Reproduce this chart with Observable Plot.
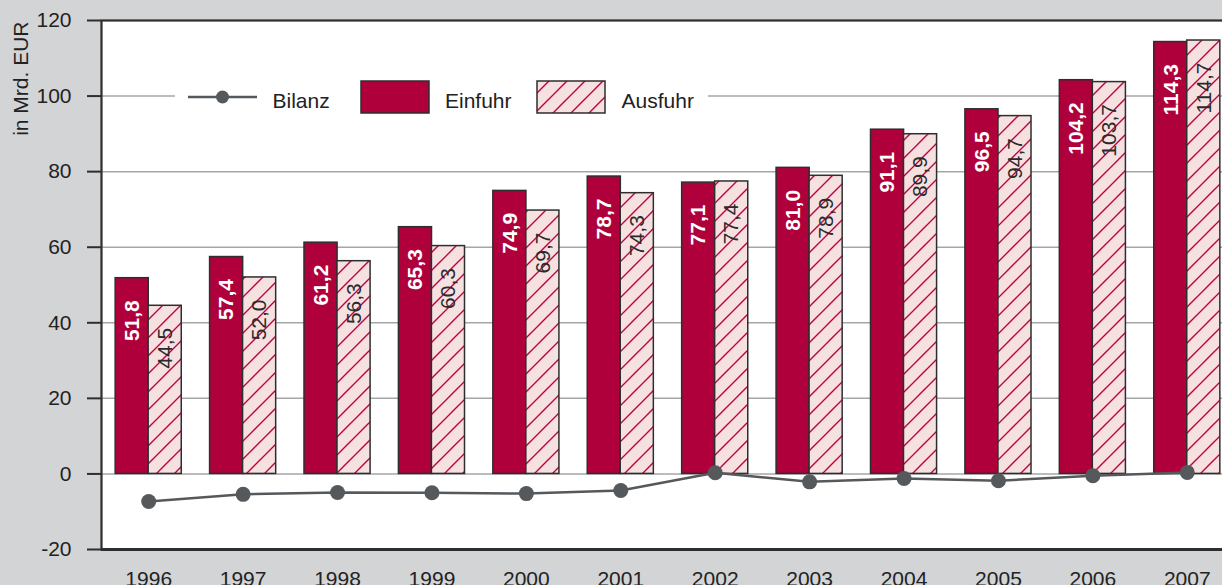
<!DOCTYPE html>
<html><head><meta charset="utf-8">
<script src="https://cdn.jsdelivr.net/npm/d3@7"></script>
<script src="https://cdn.jsdelivr.net/npm/@observablehq/plot@0.6"></script>
<style>
html,body{margin:0;padding:0;background:#d3d4d6;overflow:hidden}
#wrap{position:relative;width:1222px;height:585px;overflow:hidden}
</style></head><body><div id="wrap"></div>
<script>
const years = ["1996","1997","1998","1999","2000","2001","2002","2003","2004","2005","2006","2007"];
const einfuhr = [51.8,57.4,61.2,65.3,74.9,78.7,77.1,81.0,91.1,96.5,104.2,114.3];
const ausfuhr = [44.5,52.0,56.3,60.3,69.7,74.3,77.4,78.9,89.9,94.7,103.7,114.7];
const bilanz = [-7.3,-5.4,-4.9,-5.0,-5.2,-4.4,0.3,-2.1,-1.2,-1.8,-0.5,0.4];
const yTicks = [-20,0,20,40,60,80,100,120];
const gridTicks = [0,20,40,60,80,100];
const seriesNames = ["Bilanz","Einfuhr","Ausfuhr"];
const yLabel = "in Mrd. EUR";

const fmt = v => v.toFixed(1).replace(".", ",");
const rows = years.map((year, i) => ({year, einfuhr: einfuhr[i], ausfuhr: ausfuhr[i], bilanz: bilanz[i]}));

const RED = "#b0003c", PINK = "#f6e1e1", HATCH = "#c2003f", DARK = "#2e2e2e", GREY = "#55595c";
const FONT = "'Liberation Sans', Arial, Helvetica, sans-serif";
const half = 33;

const chart = Plot.plot({
  width: 1234, height: 585,
  marginLeft: 101, marginRight: 0, marginTop: 20, marginBottom: 36,
  style: {fontFamily: FONT, fontSize: "21px", color: "#222", background: "transparent", maxWidth: "none", overflow: "visible"},
  x: {type: "band", domain: years, paddingInner: 0.3, paddingOuter: 0.15, round: false, label: null},
  y: {domain: [-20, 120], label: null},
  marks: [
    Plot.frame({fill: "white", stroke: "none"}),
    Plot.ruleY(gridTicks, {stroke: "#a6a6a6", strokeWidth: 1.5}),
    Plot.barY(rows, {x: "year", y: "einfuhr", fill: RED, stroke: DARK, strokeWidth: 1.5, insetRight: half}),
    Plot.barY(rows, {x: "year", y: "ausfuhr", fill: "url(#hatch)", stroke: DARK, strokeWidth: 1.5, insetLeft: half}),
    Plot.frame({stroke: DARK, strokeWidth: 2.2}),
    Plot.ruleY([-20], {stroke: DARK, strokeWidth: 3}),
    Plot.axisY(yTicks, {tickSize: 14, tickPadding: 16, stroke: DARK, strokeWidth: 2, fontSize: 21, tickFormat: d => String(d)}),
    Plot.axisX({tickSize: 0, tickPadding: 22, fontSize: 21}),
    Plot.text(rows, {x: "year", y: "einfuhr", text: d => fmt(d.einfuhr), rotate: -90, textAnchor: "end", dx: -half / 2, dy: 22, fill: "white", fontWeight: "bold", fontSize: 21}),
    Plot.text(rows, {x: "year", y: "ausfuhr", text: d => fmt(d.ausfuhr), rotate: -90, textAnchor: "end", dx: half / 2, dy: 22, fill: "#2b2b2b", fontSize: 21}),
    Plot.line(rows, {x: "year", y: "bilanz", stroke: GREY, strokeWidth: 2.5}),
    Plot.dot(rows, {x: "year", y: "bilanz", r: 7.5, fill: GREY, stroke: "none"})
  ]
});

const svg = d3.select(chart);
const defs = svg.insert("defs", ":first-child");
const pat = defs.append("pattern").attr("id", "hatch").attr("patternUnits", "userSpaceOnUse")
  .attr("width", 18).attr("height", 18);
pat.append("rect").attr("width", 18).attr("height", 18).attr("fill", PINK);
pat.append("path").attr("d", "M0,18L18,0M-4.5,4.5L4.5,-4.5M13.5,22.5L22.5,13.5")
  .attr("stroke", HATCH).attr("stroke-width", 1.4);

// y label
svg.append("text").attr("transform", "translate(28,21.5) rotate(-90)")
  .attr("text-anchor", "end").attr("font-size", 21).attr("fill", "#222").text(yLabel);

// legend
const lg = svg.append("g").attr("font-size", 21).attr("fill", "#222").attr("text-anchor", "start");
lg.append("rect").attr("x", 175).attr("y", 84).attr("width", 533).attr("height", 26).attr("fill", "white");
lg.append("line").attr("x1", 188).attr("x2", 257).attr("y1", 97).attr("y2", 97).attr("stroke", GREY).attr("stroke-width", 2.5);
lg.append("circle").attr("cx", 222.5).attr("cy", 97).attr("r", 6.5).attr("fill", GREY);
lg.append("text").attr("x", 272.5).attr("y", 107.5).attr("text-anchor", "start").text(seriesNames[0]);
lg.append("rect").attr("x", 361).attr("y", 81).attr("width", 68).attr("height", 32).attr("fill", RED).attr("stroke", DARK).attr("stroke-width", 1.5);
lg.append("text").attr("x", 445).attr("y", 107.5).attr("text-anchor", "start").text(seriesNames[1]);
lg.append("rect").attr("x", 537).attr("y", 81).attr("width", 68).attr("height", 32).attr("fill", "url(#hatch)").attr("stroke", DARK).attr("stroke-width", 1.5);
lg.append("text").attr("x", 621.5).attr("y", 107.5).attr("text-anchor", "start").text(seriesNames[2]);

document.getElementById("wrap").appendChild(chart);
</script></body></html>
